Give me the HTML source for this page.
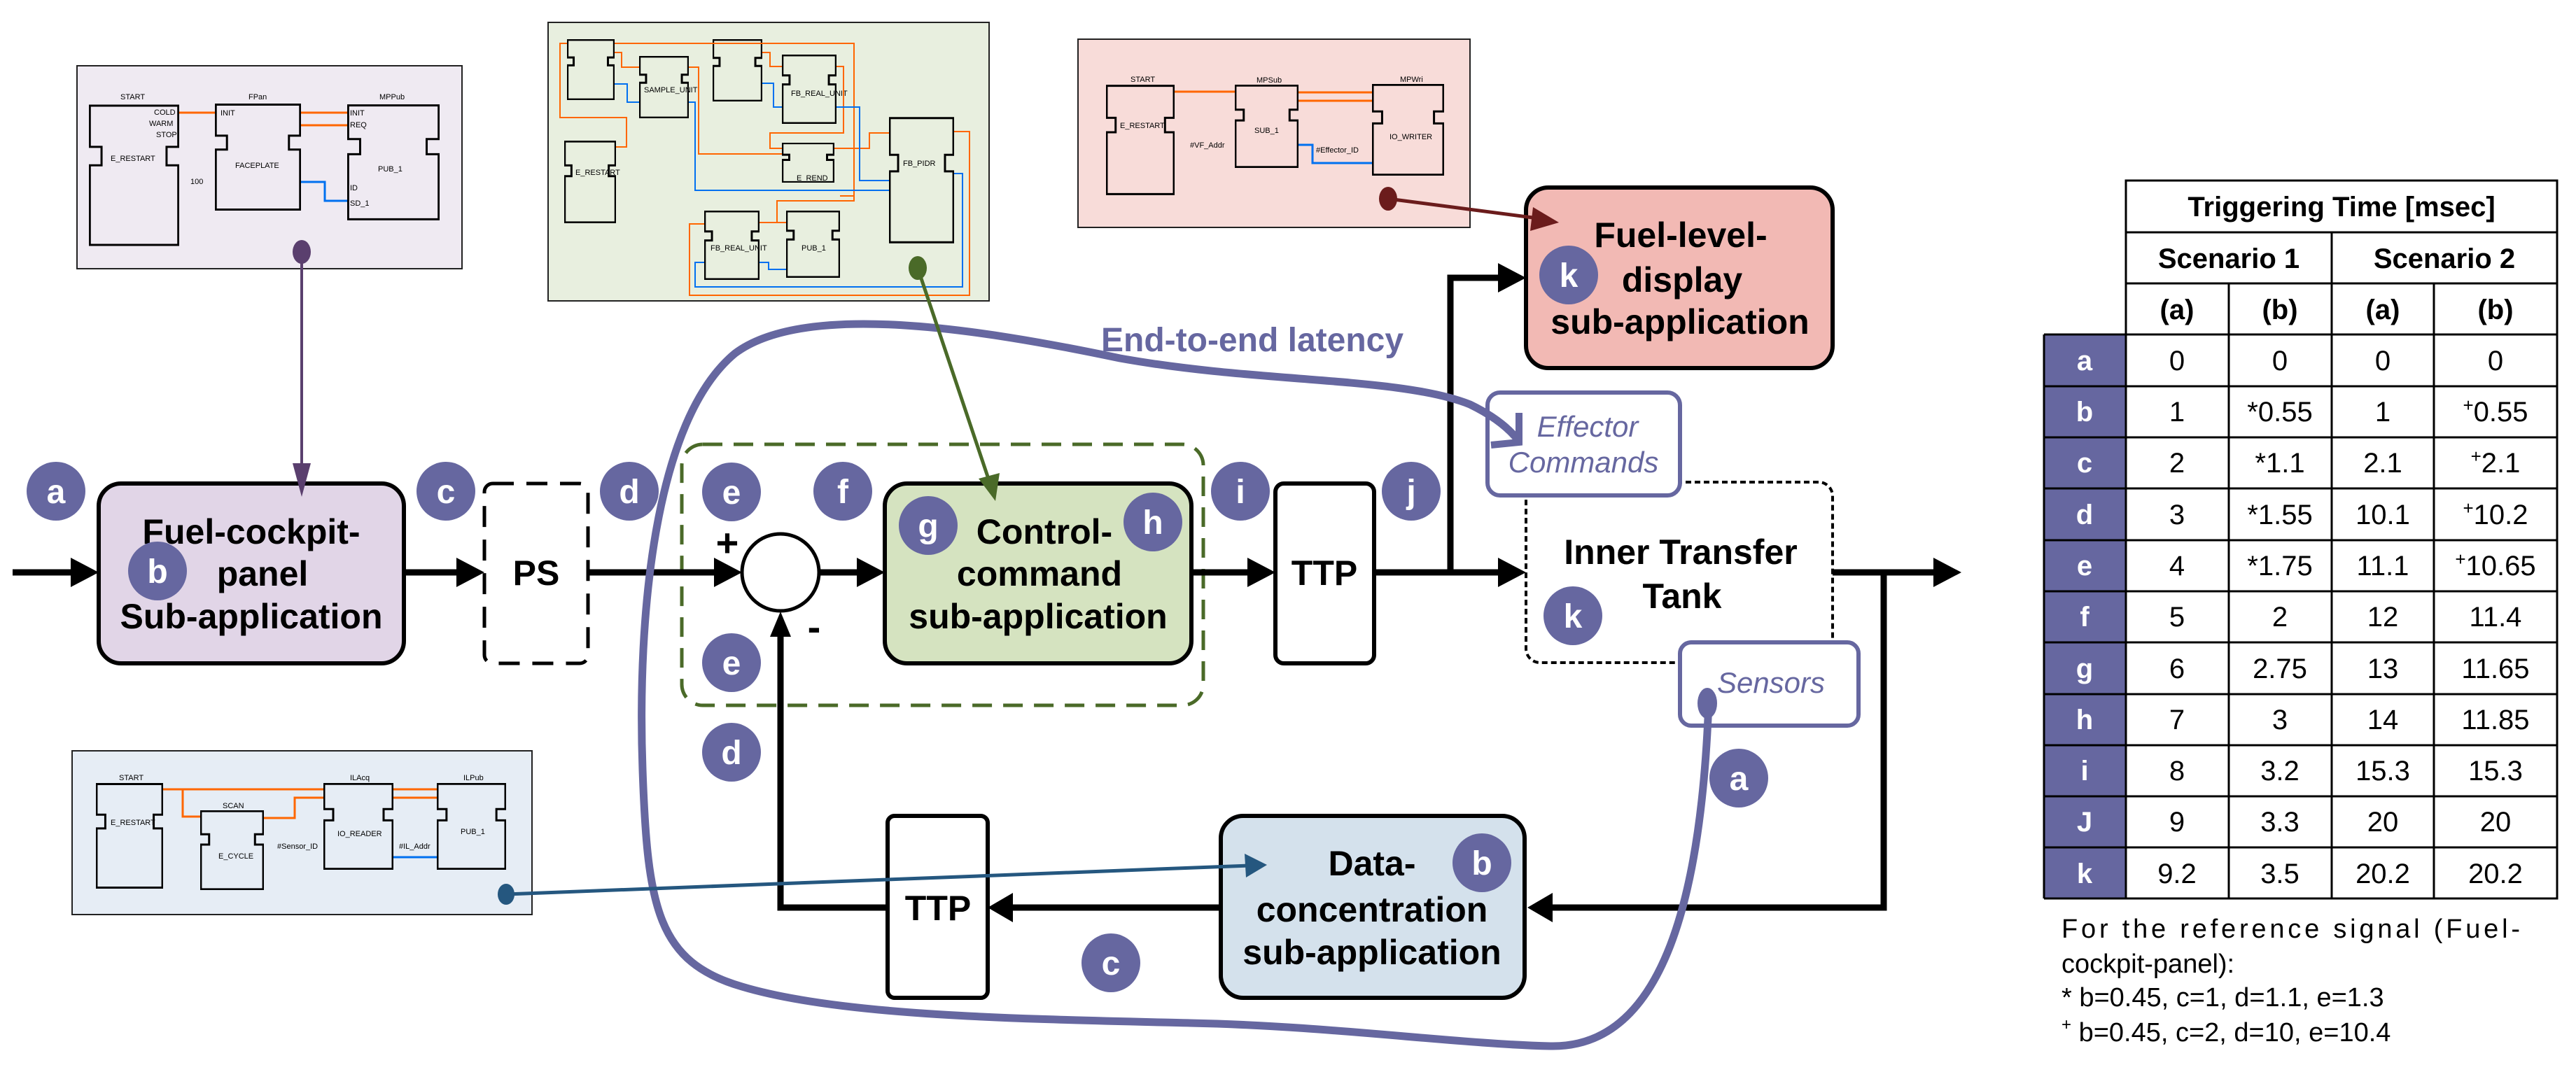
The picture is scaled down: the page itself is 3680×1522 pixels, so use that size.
<!DOCTYPE html>
<html><head><meta charset="utf-8"><style>
html,body{margin:0;padding:0;background:#fff;}
svg{display:block;font-family:"Liberation Sans",Arial,sans-serif;}
.s{font-size:11px;fill:#000;}
.nt{font-size:50px;font-weight:bold;fill:#000;text-anchor:middle;}
.lc{fill:#6667a0;}
.lt{font-size:48px;font-weight:bold;fill:#fff;text-anchor:middle;}
.tb{font-size:40px;font-weight:bold;text-anchor:middle;}
.td{font-size:40px;text-anchor:middle;}
.tl{font-size:40px;font-weight:bold;fill:#fff;text-anchor:middle;}
</style></head><body>
<svg width="3680" height="1522" viewBox="0 0 3680 1522" xmlns="http://www.w3.org/2000/svg">
<defs>
<symbol id="blk" viewBox="0 0 100 100" preserveAspectRatio="none">
<path d="M1 1H99V30H86V43H99V99H1V43H14V30H1Z" fill="none" stroke="#000" stroke-width="3" vector-effect="non-scaling-stroke"/>
</symbol>
</defs>

<!-- Purple screenshot -->
<rect x="110" y="94" width="550" height="290" fill="#efeaf2" stroke="#222" stroke-width="2"/>
<use href="#blk" x="127" y="149" width="129" height="203"/>
<use href="#blk" x="307" y="148" width="123" height="153"/>
<use href="#blk" x="496" y="149" width="132" height="166"/>
<text class="s" x="172" y="142" font-size="13">START</text>
<text class="s" x="355" y="142" font-size="13">FPan</text>
<text class="s" x="542" y="142" font-size="13">MPPub</text>
<text class="s" x="158" y="230" font-size="12">E_RESTART</text>
<text class="s" x="336" y="240" font-size="12">FACEPLATE</text>
<text class="s" x="540" y="245" font-size="13">PUB_1</text>
<text class="s" x="220" y="164" font-size="10">COLD</text>
<text class="s" x="213" y="180" font-size="10">WARM</text>
<text class="s" x="223" y="196" font-size="10">STOP</text>
<text class="s" x="315" y="165" font-size="10">INIT</text>
<text class="s" x="500" y="165" font-size="10">INIT</text>
<text class="s" x="500" y="182" font-size="10">REQ</text>
<text class="s" x="500" y="272" font-size="10">ID</text>
<text class="s" x="500" y="294" font-size="10">SD_1</text>
<text class="s" x="272" y="263" font-size="12">100</text>
<line x1="256" y1="161" x2="307" y2="161" stroke="#ff6600" stroke-width="3"/>
<line x1="430" y1="161" x2="496" y2="161" stroke="#ff6600" stroke-width="3"/>
<line x1="430" y1="179" x2="496" y2="179" stroke="#ff6600" stroke-width="3"/>
<polyline points="430,260 464,260 464,287 496,287" fill="none" stroke="#0070f0" stroke-width="3"/>

<!-- Green screenshot -->
<rect x="783" y="32" width="630" height="398" fill="#e8efdf" stroke="#222" stroke-width="2"/>
<use href="#blk" x="810" y="56" width="68" height="87"/>
<use href="#blk" x="913" y="80" width="71" height="89"/>
<use href="#blk" x="1018" y="56" width="71" height="89"/>
<use href="#blk" x="1117" y="78" width="78" height="99"/>
<use href="#blk" x="806" y="201" width="74" height="118"/>
<use href="#blk" x="1117" y="204" width="75" height="57"/>
<use href="#blk" x="1270" y="167" width="93" height="181"/>
<use href="#blk" x="1006" y="301" width="79" height="99"/>
<use href="#blk" x="1123" y="301" width="77" height="96"/>
<text class="s" x="1290" y="237" font-size="9">FB_PIDR</text>
<text class="s" x="1130" y="137" font-size="8">FB_REAL_UNIT</text>
<text class="s" x="920" y="132" font-size="8">SAMPLE_UNIT</text>
<text class="s" x="1015" y="358" font-size="8">FB_REAL_UNIT</text>
<text class="s" x="1145" y="358" font-size="8">PUB_1</text>
<text class="s" x="822" y="250" font-size="8">E_RESTART</text>
<text class="s" x="1138" y="258" font-size="8">E_REND</text>
<polyline points="878,62 1220,62 1220,280 1200,280" fill="none" stroke="#ff6600" stroke-width="2"/>
<polyline points="810,62 800,62 800,168 895,168 895,210 880,210" fill="none" stroke="#ff6600" stroke-width="2"/>
<polyline points="878,75 888,75 888,96 913,96" fill="none" stroke="#ff6600" stroke-width="2"/>
<polyline points="984,96 998,96 998,220 1117,220" fill="none" stroke="#ff6600" stroke-width="2"/>
<polyline points="1089,75 1100,75 1100,95 1117,95" fill="none" stroke="#ff6600" stroke-width="2"/>
<polyline points="1195,95 1205,95 1205,190 1100,190 1100,212 1117,212" fill="none" stroke="#ff6600" stroke-width="2"/>
<polyline points="1192,212 1242,212 1242,190 1270,190" fill="none" stroke="#ff6600" stroke-width="2"/>
<polyline points="1363,188 1385,188 1385,422 985,422 985,320 1006,320" fill="none" stroke="#ff6600" stroke-width="2"/>
<polyline points="1085,318 1123,318" fill="none" stroke="#ff6600" stroke-width="2"/>
<polyline points="1110,318 1110,287 1220,287 1220,272" fill="none" stroke="#ff6600" stroke-width="2"/>
<polyline points="878,120 896,120 896,146 913,146" fill="none" stroke="#0070f0" stroke-width="2"/>
<polyline points="984,146 993,146 993,272 1270,272" fill="none" stroke="#0070f0" stroke-width="2"/>
<polyline points="1089,119 1105,119 1105,153 1117,153" fill="none" stroke="#0070f0" stroke-width="2"/>
<polyline points="1195,153 1228,153 1228,258 1270,258" fill="none" stroke="#0070f0" stroke-width="2"/>
<polyline points="1363,248 1375,248 1375,410 993,410 993,375 1006,375" fill="none" stroke="#0070f0" stroke-width="2"/>
<polyline points="1085,375 1098,375 1098,385 1123,385" fill="none" stroke="#0070f0" stroke-width="2"/>

<!-- Pink screenshot -->
<rect x="1540" y="56" width="560" height="269" fill="#f8dcd9" stroke="#222" stroke-width="2"/>
<use href="#blk" x="1580" y="121" width="98" height="158"/>
<use href="#blk" x="1764" y="121" width="91" height="119"/>
<use href="#blk" x="1960" y="120" width="103" height="131"/>
<text class="s" x="1615" y="117" font-size="10">START</text>
<text class="s" x="1795" y="118" font-size="10">MPSub</text>
<text class="s" x="2000" y="117" font-size="10">MPWri</text>
<text class="s" x="1600" y="183" font-size="9">E_RESTART</text>
<text class="s" x="1792" y="190" font-size="9">SUB_1</text>
<text class="s" x="1985" y="199" font-size="9">IO_WRITER</text>
<text class="s" x="1700" y="211" font-size="8">#VF_Addr</text>
<text class="s" x="1880" y="218" font-size="7">#Effector_ID</text>
<line x1="1678" y1="131" x2="1764" y2="131" stroke="#ff6600" stroke-width="3"/>
<line x1="1855" y1="132" x2="1960" y2="132" stroke="#ff6600" stroke-width="3"/>
<line x1="1855" y1="144" x2="1960" y2="144" stroke="#ff6600" stroke-width="3"/>
<polyline points="1855,207 1875,207 1875,233 1960,233" fill="none" stroke="#0070f0" stroke-width="3"/>

<!-- Blue screenshot -->
<rect x="103" y="1073" width="657" height="234" fill="#e6edf5" stroke="#222" stroke-width="2"/>
<use href="#blk" x="137" y="1119" width="96" height="151"/>
<use href="#blk" x="286" y="1158" width="91" height="114"/>
<use href="#blk" x="462" y="1119" width="100" height="124"/>
<use href="#blk" x="624" y="1119" width="99" height="124"/>
<text class="s" x="170" y="1115" font-size="10">START</text>
<text class="s" x="318" y="1155" font-size="10">SCAN</text>
<text class="s" x="500" y="1115" font-size="10">ILAcq</text>
<text class="s" x="662" y="1115" font-size="10">ILPub</text>
<text class="s" x="158" y="1179" font-size="10">E_RESTART</text>
<text class="s" x="312" y="1227" font-size="10">E_CYCLE</text>
<text class="s" x="482" y="1195" font-size="10">IO_READER</text>
<text class="s" x="658" y="1192" font-size="10">PUB_1</text>
<text class="s" x="396" y="1213" font-size="9">#Sensor_ID</text>
<text class="s" x="570" y="1213" font-size="9">#IL_Addr</text>
<polyline points="233,1128 462,1128" fill="none" stroke="#ff6600" stroke-width="3"/>
<polyline points="261,1128 261,1167 286,1167" fill="none" stroke="#ff6600" stroke-width="3"/>
<polyline points="377,1169 421,1169 421,1140 462,1140" fill="none" stroke="#ff6600" stroke-width="3"/>
<line x1="562" y1="1128" x2="624" y2="1128" stroke="#ff6600" stroke-width="3"/>
<line x1="562" y1="1140" x2="624" y2="1140" stroke="#ff6600" stroke-width="3"/>
<line x1="562" y1="1225" x2="624" y2="1225" stroke="#0070f0" stroke-width="3"/>

<!-- green dashed container -->
<rect x="974" y="635" width="745" height="373" rx="30" fill="none" stroke="#4a6a28" stroke-width="5" stroke-dasharray="28,16"/>

<!-- main line -->
<g stroke="#000" stroke-width="9" fill="none">
<line x1="18" y1="818" x2="110" y2="818"/>
<line x1="577" y1="818" x2="660" y2="818"/>
<line x1="840" y1="818" x2="1030" y2="818"/>
<line x1="1170" y1="818" x2="1232" y2="818"/>
<line x1="1702" y1="818" x2="1790" y2="818"/>
<line x1="1963" y1="818" x2="2150" y2="818"/>
<polyline points="2072,818 2072,397 2150,397"/>
<line x1="2618" y1="818" x2="2770" y2="818"/>
<polyline points="2691,818 2691,1297 2215,1297"/>
<line x1="1744" y1="1297" x2="1440" y2="1297"/>
<polyline points="1268,1297 1115,1297 1115,905"/>
</g>
<g fill="#000">
<polygon points="101,797 141,818 101,839"/>
<polygon points="652,797 692,818 652,839"/>
<polygon points="1020,797 1060,818 1020,839"/>
<polygon points="1224,797 1264,818 1224,839"/>
<polygon points="1782,797 1822,818 1782,839"/>
<polygon points="2140,797 2180,818 2140,839"/>
<polygon points="2140,376 2180,397 2140,418"/>
<polygon points="2762,797 2802,818 2762,839"/>
<polygon points="2218,1276 2182,1297 2218,1318"/>
<polygon points="1447,1276 1411,1297 1447,1318"/>
<polygon points="1100,910 1115,874 1130,910"/>
</g>
<text x="1039" y="795" font-size="56" font-weight="bold" text-anchor="middle">+</text>
<text x="1163" y="915" font-size="56" font-weight="bold" text-anchor="middle">-</text>

<!-- nodes -->
<rect x="141" y="691" width="436" height="257" rx="32" fill="#e1d5e7" stroke="#000" stroke-width="6"/>
<text class="nt" x="359" y="777">Fuel-cockpit-</text>
<text class="nt" x="375" y="837">panel</text>
<text class="nt" x="359" y="898">Sub-application</text>
<rect x="692" y="691" width="148" height="257" rx="12" fill="#fff" stroke="#000" stroke-width="5" stroke-dasharray="30,18"/>
<text class="nt" x="766" y="836">PS</text>
<circle cx="1115" cy="818" r="55" fill="#fff" stroke="#000" stroke-width="5"/>
<rect x="1264" y="691" width="438" height="257" rx="32" fill="#d5e3c0" stroke="#000" stroke-width="6"/>
<text class="nt" x="1492" y="777">Control-</text>
<text class="nt" x="1485" y="837">command</text>
<text class="nt" x="1483" y="898">sub-application</text>
<rect x="1822" y="691" width="141" height="257" rx="12" fill="#fff" stroke="#000" stroke-width="6"/>
<text class="nt" x="1892" y="836">TTP</text>
<rect x="2180" y="268" width="438" height="258" rx="32" fill="#f2b9b4" stroke="#000" stroke-width="6"/>
<text class="nt" x="2401" y="353">Fuel-level-</text>
<text class="nt" x="2403" y="417">display</text>
<text class="nt" x="2400" y="477">sub-application</text>
<rect x="2180" y="689" width="438" height="258" rx="20" fill="#fff" stroke="#000" stroke-width="4" stroke-dasharray="8,5"/>
<text class="nt" x="2401" y="806">Inner Transfer</text>
<text class="nt" x="2403" y="869">Tank</text>
<rect x="1268" y="1166" width="143" height="260" rx="10" fill="#fff" stroke="#000" stroke-width="6"/>
<text class="nt" x="1340" y="1315">TTP</text>
<rect x="1744" y="1166" width="434" height="260" rx="32" fill="#d4e1ec" stroke="#000" stroke-width="6"/>
<text class="nt" x="1960" y="1251">Data-</text>
<text class="nt" x="1960" y="1317">concentration</text>
<text class="nt" x="1960" y="1378">sub-application</text>

<!-- Effector / Sensors -->
<rect x="2125" y="561" width="275" height="147" rx="18" fill="#fff" stroke="#6667a0" stroke-width="6"/>
<text x="2268" y="624" font-size="42" font-style="italic" fill="#6667a0" text-anchor="middle">Effector</text>
<text x="2262" y="675" font-size="42" font-style="italic" fill="#6667a0" text-anchor="middle">Commands</text>
<rect x="2400" y="918" width="255" height="119" rx="16" fill="#fff" stroke="#6667a0" stroke-width="6"/>
<text x="2530" y="990" font-size="42" font-style="italic" fill="#6667a0" text-anchor="middle">Sensors</text>

<!-- end-to-end latency curve -->
<path d="M2441 1003 C2430 1300 2370 1498 2215 1495 C2080 1492 1900 1466 1700 1462 C1450 1456 1200 1452 1060 1410 C940 1375 925 1300 918 1100 C910 880 935 600 1050 505 C1150 430 1400 470 1600 512 C1800 548 2000 538 2100 578 C2135 595 2155 612 2168 628" fill="none" stroke="#6667a0" stroke-width="11"/>
<polyline points="2170,590 2170,632 2130,636" fill="none" stroke="#6667a0" stroke-width="10"/>
<ellipse cx="2439" cy="1005" rx="14" ry="22" fill="#6667a0"/>
<text x="1573" y="502" font-size="48" font-weight="bold" fill="#6667a0">End-to-end latency</text>

<!-- label circles -->
<g>
<circle class="lc" cx="80" cy="702" r="42"/><text class="lt" x="80" y="719">a</text>
<circle class="lc" cx="225" cy="816" r="42"/><text class="lt" x="225" y="833">b</text>
<circle class="lc" cx="637" cy="702" r="42"/><text class="lt" x="637" y="719">c</text>
<circle class="lc" cx="899" cy="702" r="42"/><text class="lt" x="899" y="719">d</text>
<circle class="lc" cx="1045" cy="703" r="42"/><text class="lt" x="1045" y="720">e</text>
<circle class="lc" cx="1204" cy="702" r="42"/><text class="lt" x="1204" y="719">f</text>
<circle class="lc" cx="1326" cy="751" r="42"/><text class="lt" x="1326" y="768">g</text>
<circle class="lc" cx="1647" cy="746" r="42"/><text class="lt" x="1647" y="763">h</text>
<circle class="lc" cx="1772" cy="702" r="42"/><text class="lt" x="1772" y="719">i</text>
<circle class="lc" cx="2016" cy="702" r="42"/><text class="lt" x="2016" y="719">j</text>
<circle class="lc" cx="2241" cy="393" r="42"/><text class="lt" x="2241" y="410">k</text>
<circle class="lc" cx="2247" cy="880" r="42"/><text class="lt" x="2247" y="897">k</text>
<circle class="lc" cx="1045" cy="947" r="42"/><text class="lt" x="1045" y="964">e</text>
<circle class="lc" cx="1045" cy="1075" r="42"/><text class="lt" x="1045" y="1092">d</text>
<circle class="lc" cx="2484" cy="1112" r="42"/><text class="lt" x="2484" y="1129">a</text>
<circle class="lc" cx="1587" cy="1376" r="42"/><text class="lt" x="1587" y="1393">c</text>
<circle class="lc" cx="2117" cy="1233" r="42"/><text class="lt" x="2117" y="1250">b</text>
</g>

<!-- screenshot pointers (on top) -->
<line x1="431" y1="360" x2="431" y2="670" stroke="#5a3f6e" stroke-width="4"/>
<polygon points="418,662 444,662 431,710" fill="#5a3f6e"/>
<ellipse cx="431" cy="360" rx="13" ry="17" fill="#5a3f6e"/>
<line x1="1311" y1="383" x2="1414" y2="690" stroke="#4a6a28" stroke-width="5"/>
<polygon points="1398,684 1428,676 1422,716" fill="#4a6a28"/>
<ellipse cx="1311" cy="383" rx="13" ry="17" fill="#4a6a28"/>
<line x1="1983" y1="284" x2="2205" y2="313" stroke="#6b1c1c" stroke-width="5"/>
<polygon points="2190,296 2227,318 2186,330" fill="#6b1c1c"/>
<ellipse cx="1983" cy="284" rx="13" ry="17" fill="#6b1c1c"/>
<line x1="723" y1="1278" x2="1785" y2="1237" stroke="#25577f" stroke-width="5"/>
<polygon points="1778,1220 1810,1236 1780,1254" fill="#25577f"/>
<ellipse cx="723" cy="1278" rx="12" ry="15" fill="#25577f"/>

<!-- table -->
<rect x="2920" y="478" width="117" height="806" fill="#6667a0"/>
<g stroke="#000" stroke-width="3" fill="none">
<rect x="3037" y="258" width="616" height="1026"/>
<line x1="2920" y1="478" x2="2920" y2="1284"/>
<line x1="2920" y1="1284" x2="3653" y2="1284"/>
<line x1="3037" y1="332" x2="3653" y2="332"/>
<line x1="3037" y1="405" x2="3653" y2="405"/>
<line x1="2920" y1="478" x2="3653" y2="478"/>
<line x1="2920" y1="552" x2="3653" y2="552"/>
<line x1="2920" y1="625" x2="3653" y2="625"/>
<line x1="2920" y1="698" x2="3653" y2="698"/>
<line x1="2920" y1="772" x2="3653" y2="772"/>
<line x1="2920" y1="845" x2="3653" y2="845"/>
<line x1="2920" y1="918" x2="3653" y2="918"/>
<line x1="2920" y1="992" x2="3653" y2="992"/>
<line x1="2920" y1="1065" x2="3653" y2="1065"/>
<line x1="2920" y1="1138" x2="3653" y2="1138"/>
<line x1="2920" y1="1211" x2="3653" y2="1211"/>
<line x1="3331" y1="332" x2="3331" y2="1284"/>
<line x1="3184" y1="405" x2="3184" y2="1284"/>
<line x1="3477" y1="405" x2="3477" y2="1284"/>
</g>
<text class="tb" x="3345" y="309">Triggering Time [msec]</text>
<text class="tb" x="3184" y="383">Scenario 1</text>
<text class="tb" x="3492" y="383">Scenario 2</text>
<text class="tb" x="3110" y="456">(a)</text><text class="tb" x="3257" y="456">(b)</text>
<text class="tb" x="3404" y="456">(a)</text><text class="tb" x="3565" y="456">(b)</text>
<g>
<text class="tl" x="2978" y="529">a</text><text class="td" x="3110" y="529">0</text><text class="td" x="3257" y="529">0</text><text class="td" x="3404" y="529">0</text><text class="td" x="3565" y="529">0</text>
<text class="tl" x="2978" y="602">b</text><text class="td" x="3110" y="602">1</text><text class="td" x="3257" y="602">*0.55</text><text class="td" x="3404" y="602">1</text><text class="td" x="3565" y="602"><tspan font-size="26" dy="-14">+</tspan><tspan dy="14">0.55</tspan></text>
<text class="tl" x="2978" y="675">c</text><text class="td" x="3110" y="675">2</text><text class="td" x="3257" y="675">*1.1</text><text class="td" x="3404" y="675">2.1</text><text class="td" x="3565" y="675"><tspan font-size="26" dy="-14">+</tspan><tspan dy="14">2.1</tspan></text>
<text class="tl" x="2978" y="749">d</text><text class="td" x="3110" y="749">3</text><text class="td" x="3257" y="749">*1.55</text><text class="td" x="3404" y="749">10.1</text><text class="td" x="3565" y="749"><tspan font-size="26" dy="-14">+</tspan><tspan dy="14">10.2</tspan></text>
<text class="tl" x="2978" y="822">e</text><text class="td" x="3110" y="822">4</text><text class="td" x="3257" y="822">*1.75</text><text class="td" x="3404" y="822">11.1</text><text class="td" x="3565" y="822"><tspan font-size="26" dy="-14">+</tspan><tspan dy="14">10.65</tspan></text>
<text class="tl" x="2978" y="895">f</text><text class="td" x="3110" y="895">5</text><text class="td" x="3257" y="895">2</text><text class="td" x="3404" y="895">12</text><text class="td" x="3565" y="895">11.4</text>
<text class="tl" x="2978" y="969">g</text><text class="td" x="3110" y="969">6</text><text class="td" x="3257" y="969">2.75</text><text class="td" x="3404" y="969">13</text><text class="td" x="3565" y="969">11.65</text>
<text class="tl" x="2978" y="1042">h</text><text class="td" x="3110" y="1042">7</text><text class="td" x="3257" y="1042">3</text><text class="td" x="3404" y="1042">14</text><text class="td" x="3565" y="1042">11.85</text>
<text class="tl" x="2978" y="1115">i</text><text class="td" x="3110" y="1115">8</text><text class="td" x="3257" y="1115">3.2</text><text class="td" x="3404" y="1115">15.3</text><text class="td" x="3565" y="1115">15.3</text>
<text class="tl" x="2978" y="1188">J</text><text class="td" x="3110" y="1188">9</text><text class="td" x="3257" y="1188">3.3</text><text class="td" x="3404" y="1188">20</text><text class="td" x="3565" y="1188">20</text>
<text class="tl" x="2978" y="1262">k</text><text class="td" x="3110" y="1262">9.2</text><text class="td" x="3257" y="1262">3.5</text><text class="td" x="3404" y="1262">20.2</text><text class="td" x="3565" y="1262">20.2</text>
</g>
<g font-size="38">
<text x="2945" y="1340" textLength="655" lengthAdjust="spacing">For the reference signal (Fuel-</text>
<text x="2945" y="1390">cockpit-panel):</text>
<text x="2945" y="1438">* b=0.45, c=1, d=1.1, e=1.3</text>
<text x="2945" y="1488"><tspan font-size="24" dy="-16">+</tspan><tspan dy="16"> b=0.45, c=2, d=10, e=10.4</tspan></text>
</g>
</svg>
</body></html>
